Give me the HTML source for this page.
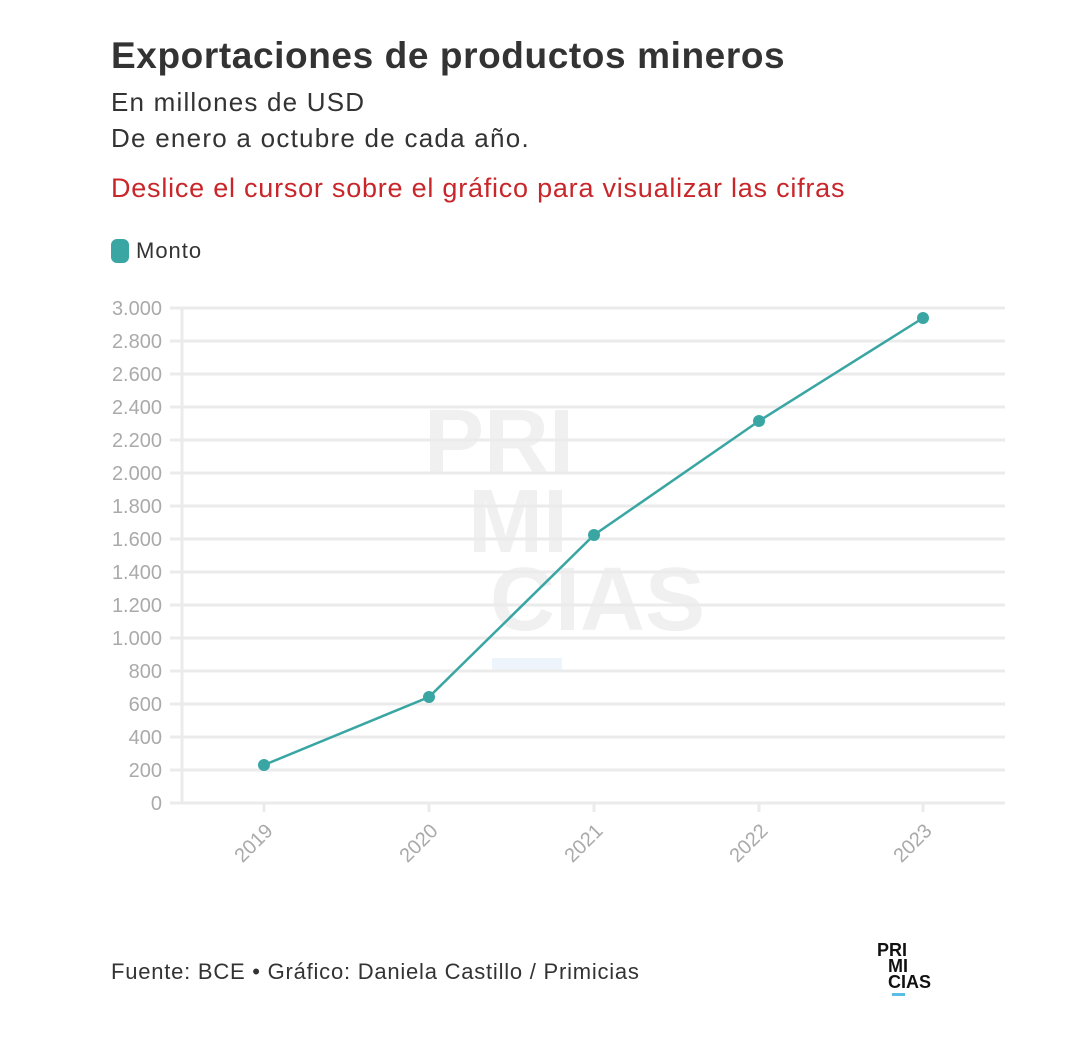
<!DOCTYPE html>
<html><head><meta charset="utf-8"><style>
body{margin:0;width:1080px;height:1060px;background:#fff;font-family:"Liberation Sans",sans-serif;position:relative;overflow:hidden}
.t{position:absolute;left:111px;white-space:nowrap}
</style></head><body>
<div class="t" style="top:35px;font-size:37px;letter-spacing:0.6px;font-weight:bold;color:#333">Exportaciones de productos mineros</div>
<div class="t" style="top:87px;font-size:26px;letter-spacing:1.2px;color:#333">En millones de USD</div>
<div class="t" style="top:123px;font-size:26px;letter-spacing:1.25px;color:#333">De enero a octubre de cada año.</div>
<div class="t" style="top:173px;font-size:27px;letter-spacing:0.77px;color:#c8262a">Deslice el cursor sobre el gráfico para visualizar las cifras</div>
<div class="t" style="top:238px;font-size:22px;letter-spacing:1px;color:#333"><span style="display:inline-block;width:18px;height:24px;border-radius:6px;background:#3aa6a4;vertical-align:-5px;margin-right:7px"></span>Monto</div>
<svg width="1080" height="1060" style="position:absolute;left:0;top:0">
<g font-family="Liberation Sans,sans-serif" font-weight="bold" fill="#f0f0f0" font-size="90">
<text x="424" y="472">PRI</text><text x="468" y="552">MI</text><text x="490" y="630">CIAS</text>
</g>
<rect x="492" y="658" width="70" height="12" fill="#eef4fb"/>
<g stroke="#ebebeb" stroke-width="3">
<line x1="170" x2="1005" y1="308" y2="308"/><line x1="170" x2="1005" y1="341" y2="341"/><line x1="170" x2="1005" y1="374" y2="374"/><line x1="170" x2="1005" y1="407" y2="407"/><line x1="170" x2="1005" y1="440" y2="440"/><line x1="170" x2="1005" y1="473" y2="473"/><line x1="170" x2="1005" y1="506" y2="506"/><line x1="170" x2="1005" y1="539" y2="539"/><line x1="170" x2="1005" y1="572" y2="572"/><line x1="170" x2="1005" y1="605" y2="605"/><line x1="170" x2="1005" y1="638" y2="638"/><line x1="170" x2="1005" y1="671" y2="671"/><line x1="170" x2="1005" y1="704" y2="704"/><line x1="170" x2="1005" y1="737" y2="737"/><line x1="170" x2="1005" y1="770" y2="770"/><line x1="170" x2="1005" y1="803" y2="803"/>
<line x1="182" x2="182" y1="308" y2="803"/>
<line x1="264" x2="264" y1="803" y2="812"/><line x1="429" x2="429" y1="803" y2="812"/><line x1="594" x2="594" y1="803" y2="812"/><line x1="759" x2="759" y1="803" y2="812"/><line x1="923" x2="923" y1="803" y2="812"/>
</g>
<g font-size="20" fill="#aaa" text-anchor="end">
<text x="162" y="315">3.000</text><text x="162" y="348">2.800</text><text x="162" y="381">2.600</text><text x="162" y="414">2.400</text><text x="162" y="447">2.200</text><text x="162" y="480">2.000</text><text x="162" y="513">1.800</text><text x="162" y="546">1.600</text><text x="162" y="579">1.400</text><text x="162" y="612">1.200</text><text x="162" y="645">1.000</text><text x="162" y="678">800</text><text x="162" y="711">600</text><text x="162" y="744">400</text><text x="162" y="777">200</text><text x="162" y="810">0</text>
<text transform="translate(274,832) rotate(-45)">2019</text><text transform="translate(439,832) rotate(-45)">2020</text><text transform="translate(604,832) rotate(-45)">2021</text><text transform="translate(769,832) rotate(-45)">2022</text><text transform="translate(933,832) rotate(-45)">2023</text>
</g>
<polyline points="264,765 429,697 594,535 759,421 923,318" fill="none" stroke="#3aa6a4" stroke-width="2.5"/>
<g fill="#3aa6a4"><circle cx="264" cy="765" r="6"/><circle cx="429" cy="697" r="6"/><circle cx="594" cy="535" r="6"/><circle cx="759" cy="421" r="6"/><circle cx="923" cy="318" r="6"/></g>
<g font-family="Liberation Sans,sans-serif" font-weight="bold" font-size="18" fill="#111">
<text x="877" y="956">PRI</text><text x="888" y="972">MI</text><text x="888" y="988">CIAS</text></g>
<rect x="892" y="993" width="13" height="3" fill="#5bbde6"/>
</svg>
<div class="t" style="top:959px;font-size:22px;letter-spacing:0.77px;color:#333">Fuente: BCE • Gráfico: Daniela Castillo / Primicias</div>
</body></html>
